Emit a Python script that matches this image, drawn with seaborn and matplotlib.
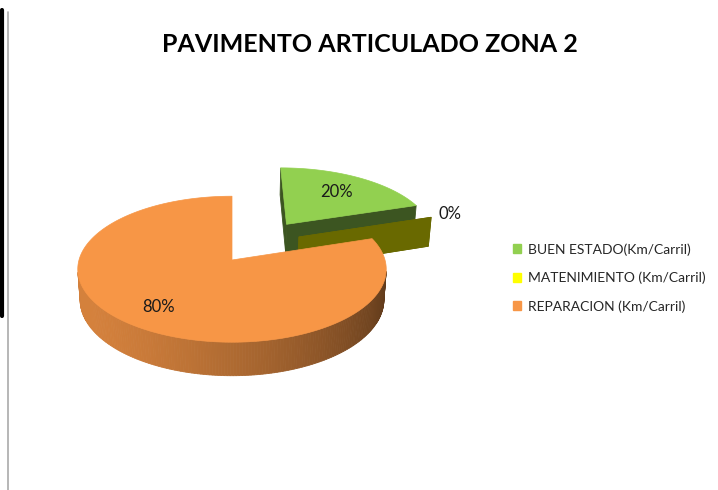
import numpy as np
import matplotlib
matplotlib.use("Agg")
import matplotlib.pyplot as plt
from matplotlib.patches import Polygon, Patch
from matplotlib.lines import Line2D
import seaborn as sns

# data
categories = ["BUEN ESTADO(Km/Carril)", "MATENIMIENTO (Km/Carril)", "REPARACION (Km/Carril)"]
values = [20, 0, 80]
pct_labels = ["20%", "0%", "80%"]
title = "PAVIMENTO ARTICULADO ZONA 2"

# style
colors = sns.color_palette(["#92D050", "#FFFF00", "#F79646"])
explode = [(0.38, 0.53), (0.456, 0.334), (0.0, 0.0)]   # offset of each slice on the disk plane
label_r = [0.68, 1.15, 0.75]

sns.set_style("white")
plt.rcParams["font.family"] = ["Lato", "DejaVu Sans"]

# simple perspective camera for the 3d pie
F, D, PHI = 1071.0, 7.0, np.radians(28)
CX, CY, H = 232.0, 260.0, 0.23
cphi, sphi = np.cos(PHI), np.sin(PHI)
cam = np.array([0.0, -D * cphi, D * sphi])


def project(p):
    x, y, z = p
    depth = D + y * cphi - z * sphi
    up = y * sphi + z * cphi
    return CX + F * x / depth, CY - F * up / depth


def depth_of(pts):
    return np.mean([D + p[1] * cphi - p[2] * sphi for p in pts])


def shade(c, k):
    return tuple(np.clip(np.array(c[:3]) * k, 0, 1))


fig = plt.figure(figsize=(7.18, 4.90), dpi=100)
ax = fig.add_axes([0, 0, 1, 1])
ax.set_xlim(0, 718)
ax.set_ylim(490, 0)
ax.axis("off")

total = float(sum(values))
starts = 90 - np.concatenate([[0], np.cumsum(values)[:-1]]) / total * 360
ends = starts - np.array(values) / total * 360

order = sorted(range(len(values)), key=lambda i: -explode[i][1])
z = 2
for i in order:
    ex, ey = explode[i]
    a0, a1 = np.radians(starts[i]), np.radians(ends[i])
    n = max(2, int(abs(starts[i] - ends[i])) + 2)
    th = np.linspace(a0, a1, n)
    apex_t = np.array([ex, ey, 0.0])
    apex_b = np.array([ex, ey, -H])
    top = [apex_t] + [np.array([ex + np.cos(t), ey + np.sin(t), 0.0]) for t in th]
    faces = []
    # cut faces
    for a, nang in [(a0, a0 + np.pi / 2), (a1, a1 - np.pi / 2)]:
        rt = np.array([ex + np.cos(a), ey + np.sin(a), 0.0])
        rb = rt + np.array([0, 0, -H])
        pts = [apex_t, rt, rb, apex_b]
        nv = np.array([np.cos(nang), np.sin(nang), 0.0])
        if values[i] == 0 or nv @ (cam - np.mean(pts, axis=0)) > 0:
            faces.append((depth_of(pts), pts, shade(colors[i], 0.41)))
    # outer side
    for t0, t1 in zip(th[:-1], th[1:]):
        tm = 0.5 * (t0 + t1)
        p0 = np.array([ex + np.cos(t0), ey + np.sin(t0), 0.0])
        p1 = np.array([ex + np.cos(t1), ey + np.sin(t1), 0.0])
        pts = [p0, p1, p1 + [0, 0, -H], p0 + [0, 0, -H]]
        nv = np.array([np.cos(tm), np.sin(tm), 0.0])
        if nv @ (cam - np.mean(pts, axis=0)) > 0:
            k = 0.6 + 0.26 * np.cos(tm - np.radians(205))
            faces.append((depth_of(pts), pts, shade(colors[i], k)))
    for _, pts, c in sorted(faces, key=lambda f: -f[0]):
        ax.add_patch(Polygon([project(p) for p in pts], closed=True,
                             facecolor=c, edgecolor=c, lw=0.6, zorder=z))
        z += 0.001
    if values[i] > 0:
        ax.add_patch(Polygon([project(p) for p in top], closed=True,
                             facecolor=colors[i], edgecolor=colors[i], lw=0.5, zorder=z))
    z += 0.01

# value labels
for i in range(len(values)):
    ex, ey = explode[i]
    mid = np.radians(0.5 * (starts[i] + ends[i]))
    p = (ex + label_r[i] * np.cos(mid), ey + label_r[i] * np.sin(mid), 0.0)
    x, y = project(p)
    ax.text(x, y, pct_labels[i], ha="center", va="center", fontsize=12,
            color="#1a1a1a", zorder=10)

ax.text(370, 45, title, ha="center", va="center", fontsize=18,
        fontweight="bold", color="black")

handles = [Patch(facecolor=c, edgecolor=c) for c in colors]
fig.legend(handles, categories, loc="center left", bbox_to_anchor=(513 / 718, 1 - 278 / 490),
           frameon=False, fontsize=10, handlelength=0.6, handleheight=0.6,
           handletextpad=0.5, labelspacing=1.15, borderpad=0, borderaxespad=0)

# page borders on the left
fig.add_artist(Line2D([2 / 718, 2 / 718], [1 - 10 / 490, 1 - 316 / 490], color="black", lw=3))
fig.add_artist(Line2D([7.5 / 718, 7.5 / 718], [1 - 12 / 490, 0], color="#aaaaaa", lw=1.2))

fig.savefig("out.png", dpi=100)
